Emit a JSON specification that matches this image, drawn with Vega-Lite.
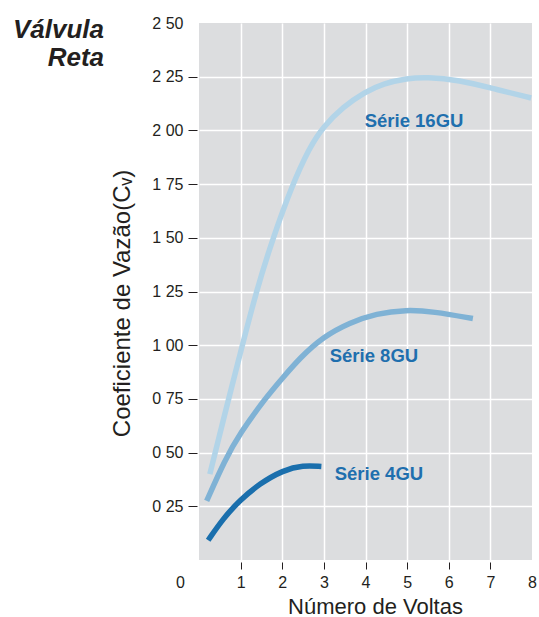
{
  "$schema": "https://vega.github.io/schema/vega-lite/v6.json",
  "autosize": "none",
  "width": 333,
  "height": 537,
  "padding": {"left": 199, "top": 23, "right": 7, "bottom": 57},
  "background": "white",
  "config": {
    "view": {"fill": "#dcdddf", "stroke": null},
    "font": "Liberation Sans"
  },
  "title": {
    "text": ["Válvula", "Reta"],
    "anchor": "start",
    "frame": "group",
    "orient": "top",
    "align": "right",
    "baseline": "alphabetic",
    "offset": 0,
    "dx": -95,
    "dy": 77,
    "lineHeight": 28,
    "font": "Liberation Sans",
    "fontSize": 26,
    "fontWeight": "bold",
    "fontStyle": "italic",
    "color": "#231f20"
  },
  "datasets": {
    "curves": [
      {"series": "16GU", "x": 0.26, "y": 0.40},
      {"series": "16GU", "x": 0.62, "y": 0.68},
      {"series": "16GU", "x": 0.95, "y": 0.93},
      {"series": "16GU", "x": 1.38, "y": 1.256},
      {"series": "16GU", "x": 1.78, "y": 1.50},
      {"series": "16GU", "x": 2.22, "y": 1.737},
      {"series": "16GU", "x": 2.66, "y": 1.923},
      {"series": "16GU", "x": 2.98, "y": 2.016},
      {"series": "16GU", "x": 3.46, "y": 2.11},
      {"series": "16GU", "x": 4.0, "y": 2.18},
      {"series": "16GU", "x": 4.42, "y": 2.218},
      {"series": "16GU", "x": 5.0, "y": 2.242},
      {"series": "16GU", "x": 5.46, "y": 2.249},
      {"series": "16GU", "x": 6.26, "y": 2.234},
      {"series": "16GU", "x": 7.06, "y": 2.195},
      {"series": "16GU", "x": 7.98, "y": 2.151},
      {"series": "8GU", "x": 0.185, "y": 0.275},
      {"series": "8GU", "x": 0.62, "y": 0.465},
      {"series": "8GU", "x": 0.98, "y": 0.589},
      {"series": "8GU", "x": 1.62, "y": 0.76},
      {"series": "8GU", "x": 2.02, "y": 0.85},
      {"series": "8GU", "x": 2.42, "y": 0.94},
      {"series": "8GU", "x": 2.98, "y": 1.039},
      {"series": "8GU", "x": 3.62, "y": 1.105},
      {"series": "8GU", "x": 4.26, "y": 1.148},
      {"series": "8GU", "x": 4.98, "y": 1.165},
      {"series": "8GU", "x": 5.62, "y": 1.157},
      {"series": "8GU", "x": 6.58, "y": 1.124},
      {"series": "4GU", "x": 0.22, "y": 0.092},
      {"series": "4GU", "x": 0.58, "y": 0.193},
      {"series": "4GU", "x": 0.98, "y": 0.278},
      {"series": "4GU", "x": 1.46, "y": 0.356},
      {"series": "4GU", "x": 2.02, "y": 0.418},
      {"series": "4GU", "x": 2.5, "y": 0.441},
      {"series": "4GU", "x": 2.94, "y": 0.435}
    ],
    "labels": [
      {"label": "Série 16GU", "x": 3.98, "y": 2.045},
      {"label": "Série 8GU", "x": 3.14, "y": 0.949},
      {"label": "Série 4GU", "x": 3.26, "y": 0.402}
    ]
  },
  "encoding": {
    "x": {
      "field": "x",
      "type": "quantitative",
      "scale": {"domain": [0, 8], "nice": false, "zero": false},
      "axis": {
        "title": "Número de Voltas",
        "values": [0, 1, 2, 3, 4, 5, 6, 7, 8],
        "format": "d",
        "domain": false,
        "grid": true,
        "gridColor": "white",
        "gridWidth": 1.5,
        "gridOpacity": {"condition": {"test": "datum.value == 0 || datum.value == 8", "value": 0}, "value": 1},
        "ticks": true,
        "tickColor": "#231f20",
        "tickSize": 7,
        "tickWidth": 1,
        "tickOpacity": {"condition": {"test": "datum.value == 0 || datum.value == 8", "value": 0}, "value": 1},
        "offset": 2,
        "labelPadding": 5,
        "labelOffset": {"condition": {"test": "datum.value == 0", "value": -19}, "value": 0},
        "labelFontSize": 16,
        "labelColor": "#231f20",
        "labelFont": "Liberation Sans",
        "labelFlush": false,
        "labelOverlap": false,
        "titleFont": "Liberation Sans",
        "titleFontSize": 22,
        "titleFontWeight": "normal",
        "titleColor": "#231f20",
        "titlePadding": 6,
        "titleAnchor": "middle",
        "titleX": 176
      }
    },
    "y": {
      "field": "y",
      "type": "quantitative",
      "scale": {"domain": [0, 2.5], "nice": false, "zero": false},
      "axis": {
        "title": "Coeficiente de Vazão(Cᵥ)",
        "values": [0.25, 0.5, 0.75, 1, 1.25, 1.5, 1.75, 2, 2.25, 2.5],
        "labelExpr": "replace(format(datum.value, '.2f'), '.', ' ')",
        "domain": false,
        "grid": true,
        "gridColor": "white",
        "gridWidth": 1.5,
        "gridOpacity": {"condition": {"test": "datum.value == 2.5", "value": 0}, "value": 1},
        "ticks": true,
        "tickColor": "#231f20",
        "tickSize": 9,
        "tickWidth": 1,
        "tickOpacity": {"condition": {"test": "datum.value == 2.5", "value": 0}, "value": 1},
        "offset": 2,
        "labelPadding": 5,
        "labelFontSize": 16,
        "labelColor": "#231f20",
        "labelFont": "Liberation Sans",
        "labelFlush": false,
        "labelOverlap": false,
        "titleFont": "Liberation Sans",
        "titleFontSize": 24,
        "titleFontWeight": "normal",
        "titleColor": "#231f20",
        "titlePadding": 17,
        "titleY": 280
      }
    }
  },
  "layer": [
    {
      "data": {"name": "curves"},
      "mark": {"type": "line", "interpolate": "basis", "strokeWidth": 5.5, "strokeCap": "butt"},
      "encoding": {
        "color": {
          "field": "series",
          "type": "nominal",
          "scale": {"domain": ["16GU", "8GU", "4GU"], "range": ["#b2d4e8", "#7fb2d5", "#1a6fad"]},
          "legend": null
        },
        "detail": {"field": "series"}
      }
    },
    {
      "data": {"name": "labels"},
      "mark": {"type": "text", "align": "left", "baseline": "middle", "font": "Liberation Sans", "fontSize": 18.5, "fontWeight": "bold", "color": "#1f6fae"},
      "encoding": {
        "text": {"field": "label"}
      }
    }
  ]
}
